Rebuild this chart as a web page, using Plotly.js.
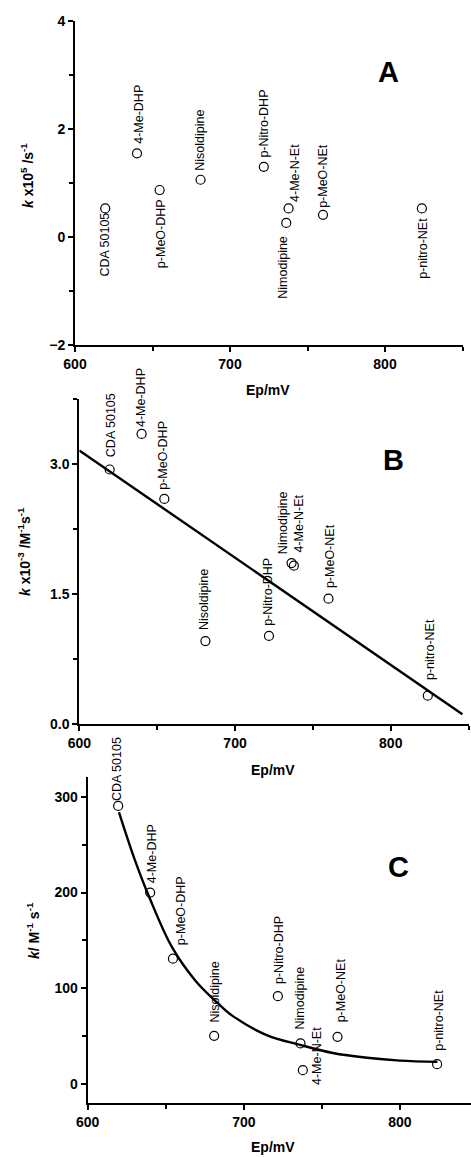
<!DOCTYPE html>
<html>
<head>
<meta charset="utf-8">
<script src="https://cdn.plot.ly/plotly-3.0.1.min.js"></script>
<style>html,body{margin:0;padding:0;background:#fff;}#chart{width:471px;height:1157px;}</style>
</head>
<body>
<div id="chart"></div>
<script>
// ---- data ----
const compounds = ['CDA 50105','4-Me-DHP','p-MeO-DHP','Nisoldipine','p-Nitro-DHP','Nimodipine','4-Me-N-Et','p-MeO-NEt','p-nitro-NEt'];
const epMV = [619.5, 640, 654.6, 681, 721.8, 736.3, 737.8, 760, 823.8];
const kA = [0.53, 1.55, 0.87, 1.06, 1.30, 0.26, 0.53, 0.41, 0.53];       // k x10^5 /s^-1
const kB = [2.94, 3.35, 2.60, 0.96, 1.02, 1.86, 1.83, 1.45, 0.33];       // k x10^-3 /M^-1 s^-1
const kC = [290.5, 200, 131, 50.4, 91.9, 42.5, 14.6, 49.4, 20.9];        // k / M^-1 s^-1
const fitBx = [600, 846];
const fitBy = [3.16, 0.115];
const fitCx = [620, 630, 640, 654, 669, 683, 693, 715, 736, 757, 779, 800, 824];
const fitCy = [284, 235, 193, 143, 108, 85, 71, 51, 41, 32.5, 27.5, 24.6, 23.3];
const xTickVals = [600, 700, 800];

// ---- label placement (style only): [dx px, gap px, side] ----
const labPosA = [[0,4,'b'],[2,9,'a'],[1,9,'b'],[0,9,'a'],[0,9,'a'],[-3,13,'b'],[7,6,'a'],[0,7,'a'],[1,9,'b']];
const labPosB = [[2,12,'a'],[0,7,'a'],[-1,9,'a'],[-2,11,'a'],[-1,10,'a'],[-9,9,'a'],[5,13,'a'],[1,11,'a'],[2,16,'a']];
const labPosC = [[-1,5,'a'],[2,9,'a'],[8,14,'a'],[1,13,'a'],[1,12,'a'],[-1,14,'a'],[14,14,'m'],[3,14,'a'],[2,13,'a']];

const FONT = 'Liberation Sans, Arial, Helvetica, sans-serif';
const markerStyle = {symbol:'circle-open', size:9, color:'black', line:{width:1.2, color:'black'}};

const traces = [
  {x:epMV, y:kA, xaxis:'x', yaxis:'y', type:'scatter', mode:'markers', marker:markerStyle, hoverinfo:'skip', cliponaxis:false},
  {x:fitBx, y:fitBy, xaxis:'x2', yaxis:'y2', type:'scatter', mode:'lines', line:{color:'black', width:2.4}, hoverinfo:'skip'},
  {x:epMV, y:kB, xaxis:'x2', yaxis:'y2', type:'scatter', mode:'markers', marker:markerStyle, hoverinfo:'skip', cliponaxis:false},
  {x:fitCx, y:fitCy, xaxis:'x3', yaxis:'y3', type:'scatter', mode:'lines', line:{color:'black', width:2.4, shape:'spline', smoothing:1}, hoverinfo:'skip'},
  {x:epMV, y:kC, xaxis:'x3', yaxis:'y3', type:'scatter', mode:'markers', marker:markerStyle, hoverinfo:'skip', cliponaxis:false}
];

function axisBase(extra) {
  return Object.assign({
    showline:true, linecolor:'black', linewidth:2, mirror:false,
    ticks:'outside', ticklen:5, tickwidth:2, tickcolor:'black',
    showgrid:false, zeroline:false, fixedrange:true,
    tickfont:{family:FONT, size:14, color:'black', weight:'bold'}
  }, extra);
}
function minor(d, t0) {
  return {dtick:d, tick0:t0, ticks:'outside', ticklen:4, tickwidth:2, tickcolor:'black', showgrid:false};
}
const H = 1157, W = 471;
const py = v => 1 - v / H;   // pixel row -> paper
const px = v => v / W;

const annotations = [];
function addLabels(xs, ys, pos, xr, yr) {
  compounds.forEach((name, i) => {
    const p = pos[i];
    const a = {x:xs[i], y:ys[i], xref:xr, yref:yr, text:name, showarrow:false, textangle:-90,
      font:{family:FONT, size:12.5, color:'black'}, borderpad:0, borderwidth:0,
      xanchor:'center', xshift:p[0]};
    if (p[2] === 'a') { a.yanchor = 'bottom'; a.yshift = p[1]; }
    else if (p[2] === 'b') { a.yanchor = 'top'; a.yshift = -p[1]; }
    else { a.yanchor = 'middle'; a.yshift = p[1]; }
    annotations.push(a);
  });
}
addLabels(epMV, kA, labPosA, 'x', 'y');
addLabels(epMV, kB, labPosB, 'x2', 'y2');
addLabels(epMV, kC, labPosC, 'x3', 'y3');

const bold14 = {family:FONT, size:14, color:'black', weight:'bold'};
// panel letters
[['A',388,72],['B',393,460],['C',398,867]].forEach(l => annotations.push({
  text:l[0], xref:'paper', yref:'paper', x:px(l[1]), y:py(l[2]), showarrow:false,
  xanchor:'center', yanchor:'middle', font:{family:FONT, size:29, color:'black', weight:'bold'}}));
// x titles
[[268,390],[273,770],[273,1147]].forEach(t => annotations.push({
  text:'Ep/mV', xref:'paper', yref:'paper', x:px(t[0]), y:py(t[1]), showarrow:false,
  xanchor:'center', yanchor:'middle', font:bold14}));
// y titles
[['<i>k</i> x10<sup>5</sup> /s<sup>-1</sup>',27,176],
 ['<i>k</i> x10<sup>-3</sup> /M<sup>-1</sup>s<sup>-1</sup>',24,552],
 ['<i>k</i>/ M<sup>-1</sup> s<sup>-1</sup>',33,931]].forEach(t => annotations.push({
  text:t[0], xref:'paper', yref:'paper', x:px(t[1]), y:py(t[2]), showarrow:false, textangle:-90,
  xanchor:'center', yanchor:'middle', font:bold14}));

const layout = {
  width:W, height:H, margin:{l:0, r:0, t:0, b:0}, showlegend:false,
  paper_bgcolor:'white', plot_bgcolor:'white',
  xaxis: axisBase({anchor:'y', domain:[px(75), px(462.5)], range:[600,850], tickvals:xTickVals, minor:minor(50,600)}),
  yaxis: axisBase({anchor:'x', domain:[py(345), py(21)], range:[-2,4], dtick:2, tick0:0, minor:minor(1,0)}),
  xaxis2: axisBase({anchor:'y2', domain:[px(79.3), px(468.6)], range:[600,850], tickvals:xTickVals, minor:minor(50,600)}),
  yaxis2: axisBase({anchor:'x2', domain:[py(724.3), py(399.3)], range:[0,3.75], dtick:1.5, tick0:0, tickformat:'.1f', minor:minor(0.75,0)}),
  xaxis3: axisBase({anchor:'y3', domain:[px(87.7), 1], range:[600,845.5], tickvals:xTickVals, minor:minor(50,600)}),
  yaxis3: axisBase({anchor:'x3', domain:[py(1103.3), py(776.7)], range:[-20,321], dtick:100, tick0:0, minor:minor(50,0)}),
  annotations: annotations
};

Plotly.newPlot('chart', traces, layout, {staticPlot:true, displayModeBar:false});
</script>
</body>
</html>
